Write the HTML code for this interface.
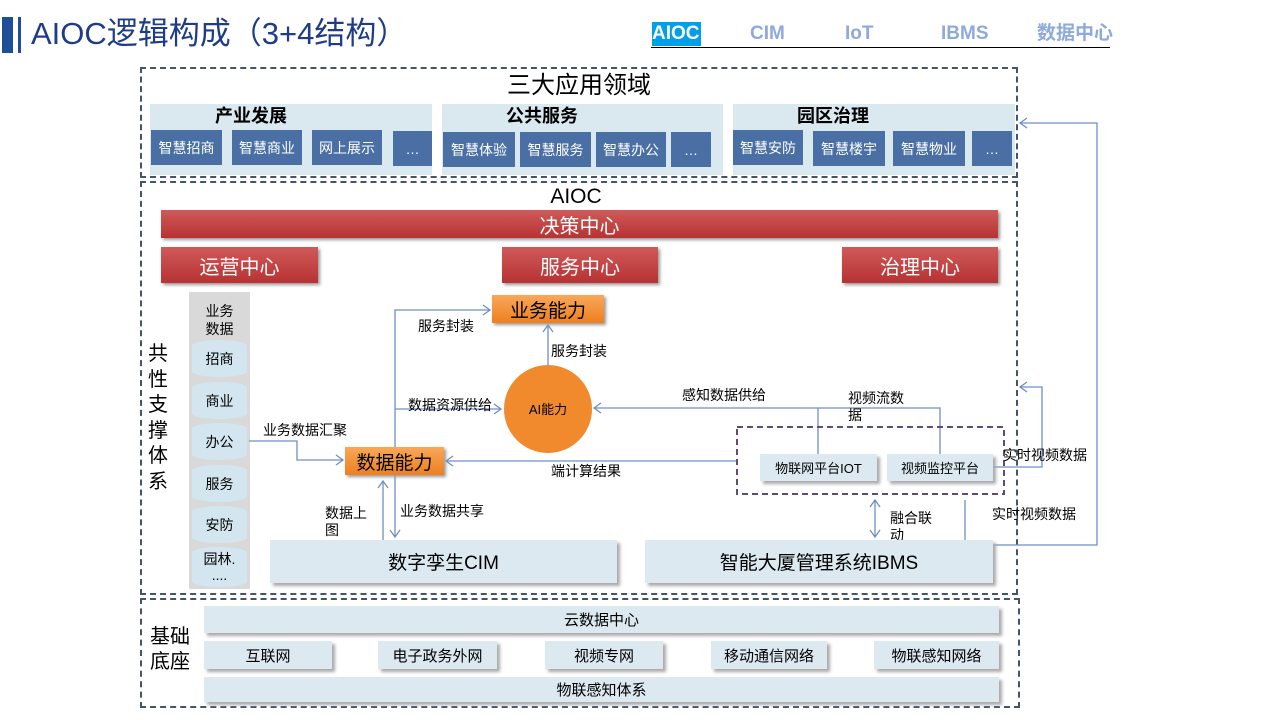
<!DOCTYPE html>
<html><head><meta charset="utf-8"><style>
*{margin:0;padding:0;box-sizing:border-box}
body{width:1280px;height:720px;background:#fff;position:relative;overflow:hidden;font-family:"Liberation Sans","Noto Sans CJK SC",sans-serif;color:#000}
.a{position:absolute}
.c{display:flex;align-items:center;justify-content:center;text-align:center}
.dash{border:2px dashed #44546A}
.grp{background:#DAE8F0}
.btn{background:#4A6FA5;color:#fff;font-size:14px}
.red{background:linear-gradient(#CF5A5A,#B83232);color:#fff;font-size:20px;box-shadow:2px 2px 3px #999}
.lb{background:#DCE9F0;box-shadow:3px 3px 3px #aaa;font-size:16px}
.or{background:linear-gradient(#F8A85A,#EE7F1E);box-shadow:2px 2px 3px #999;font-size:19px}
.cyl{background:#D3E6EF;border-radius:28px/6px;font-size:14px}
.t{font-size:14px;white-space:nowrap}
.nav{font-size:19px;font-weight:bold;color:#8EA9DB;line-height:24px;height:24px;top:22px}
</style></head><body>
<div class="a" style="left:2px;top:17px;width:11px;height:36px;background:#1F4E99"></div>
<div class="a" style="left:18px;top:17px;width:3px;height:36px;background:#1F4E99"></div>
<div class="a" style="left:31px;top:14px;font-size:31px;line-height:40px;color:#1F3C88">AIOC逻辑构成（3+4结构）</div>
<div class="a" style="left:652px;top:22px;width:49px;height:24px;background:#00A0E9"></div>
<div class="a nav" style="left:652px;color:#fff">AIOC</div>
<div class="a nav" style="left:750px">CIM</div>
<div class="a nav" style="left:845px">IoT</div>
<div class="a nav" style="left:941px">IBMS</div>
<div class="a nav" style="left:1037px">数据中心</div>
<div class="a" style="left:651px;top:47px;width:459px;height:1px;background:#000"></div>

<div class="a dash" style="left:140px;top:67px;width:878px;height:111px"></div>
<div class="a" style="left:140px;top:71px;width:878px;text-align:center;font-size:24px;line-height:30px">三大应用领域</div>
<div class="a grp" style="left:150px;top:104px;width:282px;height:71px"></div>
<div class="a grp" style="left:442px;top:104px;width:281px;height:71px"></div>
<div class="a grp" style="left:733px;top:104px;width:282px;height:71px"></div>
<div class="a" style="left:150px;top:104px;width:202px;text-align:center;font-size:18px;line-height:24px;font-weight:bold">产业发展</div>
<div class="a" style="left:442px;top:104px;width:200px;text-align:center;font-size:18px;line-height:24px;font-weight:bold">公共服务</div>
<div class="a" style="left:733px;top:104px;width:200px;text-align:center;font-size:18px;line-height:24px;font-weight:bold">园区治理</div>
<div class="a c btn" style="left:151px;top:130px;width:71px;height:35px">智慧招商</div>
<div class="a c btn" style="left:232px;top:130px;width:70px;height:35px">智慧商业</div>
<div class="a c btn" style="left:312px;top:130px;width:70px;height:35px">网上展示</div>
<div class="a c btn" style="left:393px;top:131px;width:39px;height:35px">…</div>
<div class="a c btn" style="left:443px;top:132px;width:72px;height:35px">智慧体验</div>
<div class="a c btn" style="left:520px;top:132px;width:71px;height:35px">智慧服务</div>
<div class="a c btn" style="left:596px;top:132px;width:70px;height:35px">智慧办公</div>
<div class="a c btn" style="left:671px;top:132px;width:40px;height:35px">…</div>
<div class="a c btn" style="left:733px;top:130px;width:70px;height:35px">智慧安防</div>
<div class="a c btn" style="left:813px;top:131px;width:72px;height:35px">智慧楼宇</div>
<div class="a c btn" style="left:893px;top:131px;width:72px;height:35px">智慧物业</div>
<div class="a c btn" style="left:972px;top:131px;width:40px;height:35px">…</div>

<div class="a dash" style="left:140px;top:181px;width:878px;height:414px"></div>
<div class="a" style="left:140px;top:185px;width:872px;text-align:center;font-size:21px;line-height:24px">AIOC</div>
<div class="a c red" style="left:161px;top:210px;width:837px;height:28px">决策中心</div>
<div class="a c red" style="left:161px;top:247px;width:157px;height:36px">运营中心</div>
<div class="a c red" style="left:502px;top:247px;width:156px;height:36px">服务中心</div>
<div class="a c red" style="left:842px;top:247px;width:156px;height:36px">治理中心</div>

<div class="a" style="left:148px;top:342px;width:24px;font-size:20px;line-height:25.5px">共性支撑体系</div>
<div class="a" style="left:189px;top:292px;width:61px;height:297px;background:#D9D9D9"></div>
<div class="a" style="left:189px;top:302px;width:61px;text-align:center;font-size:14px;line-height:18px">业务<br>数据</div>
<div class="a c cyl" style="left:192px;top:340px;width:55px;height:37px">招商</div>
<div class="a c cyl" style="left:192px;top:382px;width:55px;height:37px">商业</div>
<div class="a c cyl" style="left:192px;top:423px;width:55px;height:37px">办公</div>
<div class="a c cyl" style="left:192px;top:465px;width:55px;height:37px">服务</div>
<div class="a c cyl" style="left:192px;top:506px;width:55px;height:37px">安防</div>
<div class="a c cyl" style="left:192px;top:547px;width:55px;height:40px;line-height:16px">园林.<br>....</div>

<svg class="a" style="left:0;top:0" width="1280" height="720">
<g stroke="#6E8FC6" stroke-width="1.3" fill="none">
<polyline points="249,441 297,441 297,460 343,460"/><polyline points="336,455 343,460 336,465"/>
<polyline points="395,447 395,310 490,310"/><polyline points="483,305 490,310 483,315"/>
<polyline points="395,409 501,409"/><polyline points="494,404 501,409 494,414"/>
<polyline points="548,365 548,325"/><polyline points="543,332 548,325 553,332"/>
<polyline points="818,454 818,408 594,408"/><polyline points="601,403 594,408 601,413"/>
<polyline points="940,454 940,408 818,408"/>
<polyline points="737,461 446,461"/><polyline points="453,456 446,461 453,466"/>
<polyline points="993,467 1042,467 1042,387 1020,387"/><polyline points="1027,382 1020,387 1027,392"/>
<polyline points="993,545 1097,545 1097,123 1020,123"/><polyline points="1027,118 1020,123 1027,128"/>
<polyline points="965,500 965,540"/>
<polyline points="875,500 875,537"/><polyline points="870,507 875,500 880,507"/><polyline points="870,530 875,537 880,530"/>
<polyline points="383,540 383,481"/><polyline points="378,488 383,481 388,488"/>
<polyline points="395,475 395,537"/><polyline points="390,530 395,537 400,530"/>
</g>
<circle cx="548" cy="409" r="44" fill="#F08A2C"/>
<rect x="737" y="427" width="267" height="67" fill="none" stroke="#5F4B78" stroke-width="2" stroke-dasharray="6,4"/>
</svg>
<div class="a c" style="left:504px;top:399px;width:88px;font-size:13px">AI能力</div>
<div class="a c or" style="left:492px;top:295px;width:112px;height:28px">业务能力</div>
<div class="a c or" style="left:345px;top:447px;width:99px;height:28px">数据能力</div>
<div class="a c lb" style="left:760px;top:454px;width:117px;height:27px;font-size:13px">物联网平台IOT</div>
<div class="a c lb" style="left:887px;top:454px;width:106px;height:27px;font-size:13px">视频监控平台</div>
<div class="a c lb" style="left:270px;top:540px;width:347px;height:43px;font-size:19px">数字孪生CIM</div>
<div class="a c lb" style="left:645px;top:540px;width:348px;height:43px;font-size:19px">智能大厦管理系统IBMS</div>

<div class="a t" style="left:418px;top:316px">服务封装</div>
<div class="a t" style="left:551px;top:341px">服务封装</div>
<div class="a t" style="left:408px;top:395px">数据资源供给</div>
<div class="a t" style="left:263px;top:420px">业务数据汇聚</div>
<div class="a t" style="left:682px;top:385px">感知数据供给</div>
<div class="a t" style="left:848px;top:390px;line-height:17px">视频流数<br>据</div>
<div class="a t" style="left:551px;top:461px">端计算结果</div>
<div class="a t" style="left:1003px;top:445px">实时视频数据</div>
<div class="a t" style="left:992px;top:504px">实时视频数据</div>
<div class="a t" style="left:890px;top:510px;line-height:17px;height:30px;overflow:hidden">融合联<br>动</div>
<div class="a t" style="left:325px;top:505px;line-height:17px">数据上<br>图</div>
<div class="a t" style="left:400px;top:501px">业务数据共享</div>

<div class="a dash" style="left:140px;top:598px;width:880px;height:110px"></div>
<div class="a" style="left:150px;top:625px;width:44px;font-size:20px;line-height:25px">基础底座</div>
<div class="a c lb" style="left:204px;top:606px;width:795px;height:27px;font-size:15px">云数据中心</div>
<div class="a c lb" style="left:204px;top:641px;width:128px;height:28px;font-size:15px">互联网</div>
<div class="a c lb" style="left:378px;top:641px;width:119px;height:28px;font-size:15px">电子政务外网</div>
<div class="a c lb" style="left:545px;top:641px;width:118px;height:28px;font-size:15px">视频专网</div>
<div class="a c lb" style="left:711px;top:641px;width:116px;height:28px;font-size:15px">移动通信网络</div>
<div class="a c lb" style="left:874px;top:641px;width:125px;height:28px;font-size:15px">物联感知网络</div>
<div class="a c lb" style="left:204px;top:677px;width:795px;height:25px;font-size:15px">物联感知体系</div>
</body></html>
